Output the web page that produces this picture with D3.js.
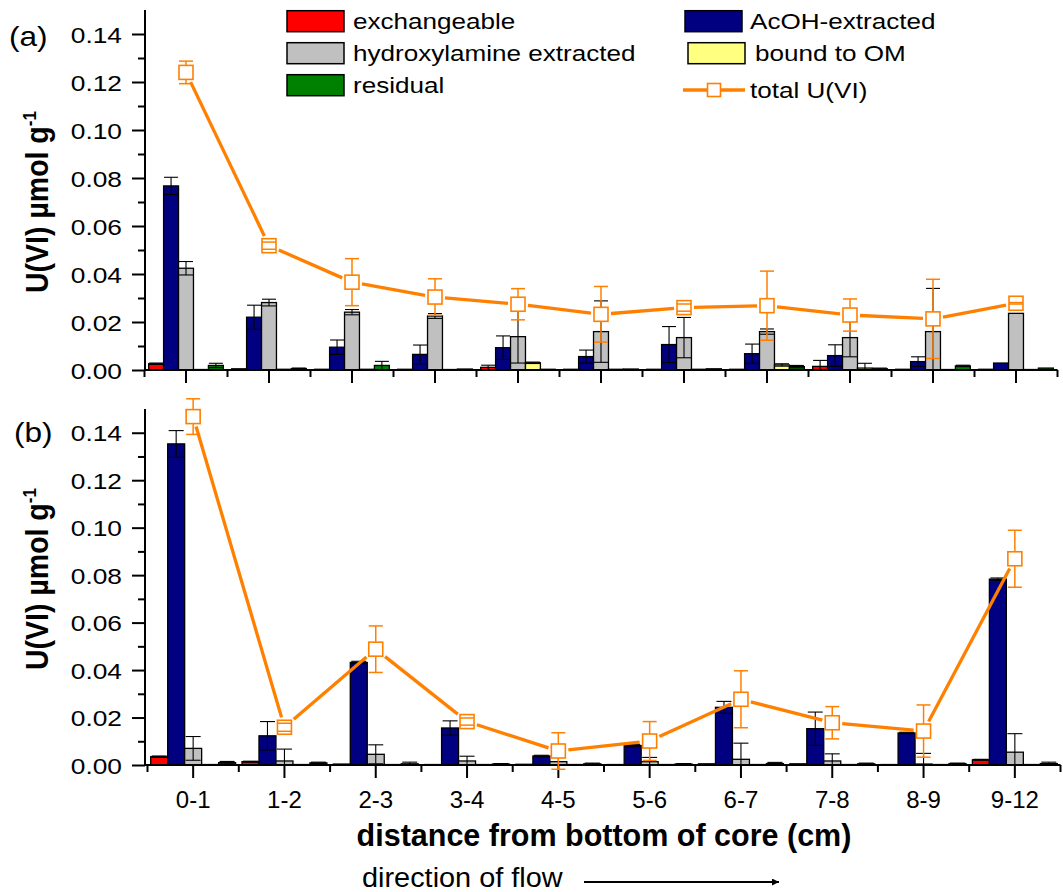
<!DOCTYPE html>
<html>
<head>
<meta charset="utf-8">
<script src="https://cdn.jsdelivr.net/npm/d3@7/dist/d3.min.js"></script>
<style>
  body { margin: 0; background: #fff; }
  svg { display: block; }
  text { font-family: "Liberation Sans", Arial, sans-serif; fill: #000; }
</style>
</head>
<body>
<svg id="chart" width="1063" height="892"></svg>
<script>
// ---- data ----
const seriesNames = ["exchangeable", "AcOH-extracted", "hydroxylamine extracted", "bound to OM", "residual"];

// panel (a): 11 slices, x labels not shown in the figure
const categoriesA = ["0-1", "1-2", "2-3", "3-4", "4-5", "5-6", "6-7", "7-8", "8-9", "9-10", "10-11"];
const exchA     = [0.0026, 0.0005, 0.0003, 0.0003, 0.0011, 0.0003, 0.0003, 0.0003, 0.0015, 0.0003, 0.0003];
const exchErrA  = [0.0003, 0, 0, 0, 0.0009, 0, 0, 0, 0.0025, 0, 0];
const acohA     = [0.0767, 0.0220, 0.0095, 0.0065, 0.0093, 0.0056, 0.0106, 0.0068, 0.0060, 0.0035, 0.0029];
const acohErrA  = [0.0036, 0.0050, 0.0030, 0.0039, 0.0049, 0.0027, 0.0075, 0.0040, 0.0045, 0.0020, 0];
const hydroxA   = [0.0424, 0.0281, 0.0241, 0.0225, 0.0139, 0.0160, 0.0135, 0.0160, 0.0135, 0.0160, 0.0236];
const hydroxErrA= [0.0028, 0.0014, 0.0011, 0.0010, 0.0110, 0.0128, 0.0084, 0.0011, 0.0080, 0.0180, 0];
const omA       = [0.0002, 0.0003, 0.0003, 0.0002, 0.0030, 0.0003, 0.0003, 0.0021, 0.0008, 0.0002, 0.0002];
const omErrA    = [0, 0, 0, 0, 0.0003, 0, 0, 0.0005, 0.0020, 0, 0];
const residA    = [0.0019, 0.0006, 0.0019, 0.0004, 0.0003, 0.0004, 0.0005, 0.0014, 0.0005, 0.0017, 0.0008];
const residErrA = [0.0009, 0.0002, 0.0017, 0, 0, 0, 0, 0.0005, 0.0003, 0.0003, 0];
const totalA    = [0.1240, 0.0518, 0.0366, 0.0304, 0.0274, 0.0232, 0.0260, 0.0268, 0.0229, 0.0213, 0.0278];
const totalErrA = [0.0047, 0.0015, 0.0098, 0.0076, 0.0065, 0.0116, 0.0015, 0.0144, 0.0067, 0.0165, 0.0003];

// panel (b)
const categoriesB = ["0-1", "1-2", "2-3", "3-4", "4-5", "5-6", "6-7", "7-8", "8-9", "9-12"];
const exchB     = [0.0035, 0.0014, 0.0004, 0.0002, 0.0003, 0.0002, 0.0005, 0.0005, 0.0002, 0.0022];
const exchErrB  = [0.0003, 0.0002, 0, 0, 0, 0, 0, 0, 0, 0.0002];
const acohB     = [0.1353, 0.0123, 0.0432, 0.0156, 0.0038, 0.0082, 0.0243, 0.0153, 0.0135, 0.0783];
const acohErrB  = [0.0056, 0.0060, 0.0005, 0.0030, 0.0003, 0.0005, 0.0025, 0.0070, 0.0003, 0.0005];
const hydroxB   = [0.0070, 0.0017, 0.0045, 0.0017, 0.0014, 0.0014, 0.0024, 0.0017, 0.0004, 0.0054];
const hydroxErrB= [0.0050, 0.0050, 0.0040, 0.0020, 0.0060, 0.0018, 0.0068, 0.0030, 0.0045, 0.0078];
const omB       = [0.0002, 0.0002, 0.0002, 0.0002, 0.0002, 0.0002, 0.0002, 0.0002, 0.0002, 0.0002];
const omErrB    = [0, 0, 0, 0, 0, 0, 0, 0, 0, 0];
const residB    = [0.0010, 0.0009, 0.0005, 0.0004, 0.0005, 0.0004, 0.0006, 0.0005, 0.0006, 0.0006];
const residErrB = [0.0005, 0.0003, 0.0007, 0.0002, 0.0003, 0.0002, 0.0005, 0.0003, 0.0002, 0.0006];
const totalB    = [0.1468, 0.0159, 0.0488, 0.0183, 0.0059, 0.0101, 0.0277, 0.0178, 0.0143, 0.0869];
const totalErrB = [0.0075, 0.0017, 0.0098, 0.0015, 0.0077, 0.0082, 0.0120, 0.0068, 0.0110, 0.0120];

const yTicks = [0, 0.02, 0.04, 0.06, 0.08, 0.10, 0.12, 0.14];
const yMinorTicks = [0.01, 0.03, 0.05, 0.07, 0.09, 0.11, 0.13];

// ---- styles ----
const barColors = ["#FF0000", "#000080", "#C0C0C0", "#FFFF80", "#008000"];
const ORANGE = "#FF8000";
const STRETCH = 1.17;   // the figure's text is a bit wide

const svg = d3.select("#chart");

function drawPanel(p) {
  const g = svg.append("g");
  const y = d3.scaleLinear().domain([0, 0.15]).range([p.bottom, p.top]);
  const x = d3.scaleBand().domain(p.cats).range([p.left, p.right]).padding(0);
  const bw = x.bandwidth();
  const inner = d3.scaleBand().domain(d3.range(seriesNames.length))
    .range([bw * (1 - p.frac) / 2, bw * (1 + p.frac) / 2]);

  // bars
  p.values.forEach((vals, s) => {
    g.append("g").selectAll("rect")
      .data(vals)
      .join("rect")
        .attr("x", (d, i) => x(p.cats[i]) + inner(s))
        .attr("y", d => y(d))
        .attr("width", inner.bandwidth())
        .attr("height", d => y(0) - y(d))
        .attr("fill", barColors[s])
        .attr("stroke", "#000")
        .attr("stroke-width", 1.3);
  });

  // bar error bars (lower end stops at the axis)
  p.values.forEach((vals, s) => {
    const errs = p.errs[s];
    const cap = p.cap / 2;
    vals.forEach((v, i) => {
      const e = errs[i];
      if (!e) return;
      const cx = x(p.cats[i]) + inner(s) + inner.bandwidth() / 2;
      const lo = Math.max(v - e, 0);
      const eg = g.append("g").attr("stroke", "#000").attr("stroke-width", 1.1);
      eg.append("line").attr("x1", cx).attr("x2", cx).attr("y1", y(v + e)).attr("y2", y(lo));
      eg.append("line").attr("x1", cx - cap).attr("x2", cx + cap).attr("y1", y(v + e)).attr("y2", y(v + e));
      if (v - e > 0) {
        eg.append("line").attr("x1", cx - cap).attr("x2", cx + cap).attr("y1", y(v - e)).attr("y2", y(v - e));
      }
    });
  });

  // axes
  const yAxis = g.append("g").attr("transform", `translate(${p.axisX},0)`)
    .call(d3.axisLeft(y).tickValues(yTicks).tickFormat(d3.format(".2f")).tickSize(13).tickPadding(10));
  yAxis.select(".domain").remove();
  yAxis.selectAll(".tick line").attr("stroke", "#000").attr("stroke-width", 2);
  yAxis.selectAll(".tick text")
    .attr("font-size", 22.5)
    .attr("x", -23 / STRETCH)
    .attr("dy", "0.36em")
    .attr("transform", `scale(${STRETCH},1)`);
  const yMinor = g.append("g").attr("transform", `translate(${p.axisX},0)`)
    .call(d3.axisLeft(y).tickValues(yMinorTicks).tickFormat("").tickSize(7));
  yMinor.select(".domain").remove();
  yMinor.selectAll(".tick line").attr("stroke", "#000").attr("stroke-width", 2);

  const xAxis = g.append("g").attr("transform", `translate(0,${p.bottom})`)
    .call(d3.axisBottom(x).tickSize(13).tickFormat(p.showLabels ? (d => d) : ""));
  xAxis.select(".domain").remove();
  xAxis.selectAll(".tick line").attr("stroke", "#000").attr("stroke-width", 2);
  xAxis.selectAll(".tick text").attr("font-size", 24).attr("dy", null).attr("y", 43);

  const bounds = p.cats.map(c => x(c)).concat([x.range()[1]]);
  g.append("g").selectAll("line")
    .data(bounds)
    .join("line")
      .attr("x1", d => d).attr("x2", d => d)
      .attr("y1", p.bottom).attr("y2", p.bottom + 7)
      .attr("stroke", "#000").attr("stroke-width", 2);

  g.append("line")
    .attr("x1", p.axisX).attr("x2", p.axisX)
    .attr("y1", y(0.15)).attr("y2", y(0) + 1)
    .attr("stroke", "#000").attr("stroke-width", 2);
  g.append("line")
    .attr("x1", p.axisX - 1).attr("x2", x.range()[1])
    .attr("y1", y(0)).attr("y2", y(0))
    .attr("stroke", "#000").attr("stroke-width", 2);

  // total U(VI) line, with a small gap around each marker
  const pts = p.total.map((v, i) => [x(p.cats[i]) + bw / 2, y(v)]);
  const half = p.marker / 2, gap = 3;
  for (let i = 0; i < pts.length - 1; i++) {
    const [x1, y1] = pts[i], [x2, y2] = pts[i + 1];
    const len = Math.hypot(x2 - x1, y2 - y1);
    const ux = (x2 - x1) / len, uy = (y2 - y1) / len;
    const t = half / Math.max(Math.abs(ux), Math.abs(uy)) + gap;
    if (len <= 2 * t) continue;
    g.append("line")
      .attr("x1", x1 + ux * t).attr("y1", y1 + uy * t)
      .attr("x2", x2 - ux * t).attr("y2", y2 - uy * t)
      .attr("stroke", ORANGE).attr("stroke-width", 3.3).attr("stroke-linecap", "butt");
  }

  const tg = g.append("g").attr("stroke", ORANGE).attr("stroke-width", 1.5);
  p.total.forEach((v, i) => {
    const e = p.totalErr[i];
    const cx = x(p.cats[i]) + bw / 2;
    tg.append("line").attr("x1", cx).attr("x2", cx).attr("y1", y(v + e)).attr("y2", y(v - e));
  });
  g.append("g").selectAll("rect")
    .data(p.total)
    .join("rect")
      .attr("x", (d, i) => x(p.cats[i]) + bw / 2 - half)
      .attr("y", d => y(d) - half)
      .attr("width", p.marker).attr("height", p.marker)
      .attr("fill", "#fff").attr("stroke", ORANGE).attr("stroke-width", 1.6);
  const cg = g.append("g").attr("stroke", ORANGE).attr("stroke-width", 1.5);
  p.total.forEach((v, i) => {
    const e = p.totalErr[i];
    const cx = x(p.cats[i]) + bw / 2;
    [v + e, v - e].forEach(yy => {
      cg.append("line").attr("x1", cx - half).attr("x2", cx + half).attr("y1", y(yy)).attr("y2", y(yy));
    });
  });

  // panel letter
  svg.append("text")
    .attr("transform", `translate(${p.letterX},${p.letterY}) scale(${STRETCH},1)`)
    .attr("font-size", 27)
    .text(p.letter);

  // y title
  const yt = svg.append("text")
    .attr("transform", `translate(48,${p.titleY}) rotate(-90) scale(1,1.12)`)
    .attr("font-size", 28.5)
    .attr("font-weight", "bold");
  yt.append("tspan").text("U(VI) \u00b5mol g");
  yt.append("tspan").attr("font-size", 17).attr("dy", -11).text("-1");
}

drawPanel({
  cats: categoriesA,
  values: [exchA, acohA, hydroxA, omA, residA],
  errs: [exchErrA, acohErrA, hydroxErrA, omErrA, residErrA],
  total: totalA, totalErr: totalErrA,
  top: 10, bottom: 370, left: 144.5, right: 1057.5, axisX: 145,
  frac: 0.9, cap: 14, marker: 14, showLabels: false,
  letter: "(a)", letterX: 9, letterY: 46, titleY: 293
});

drawPanel({
  cats: categoriesB,
  values: [exchB, acohB, hydroxB, omB, residB],
  errs: [exchErrB, acohErrB, hydroxErrB, omErrB, residErrB],
  total: totalB, totalErr: totalErrB,
  top: 409, bottom: 765, left: 147.5, right: 1060.5, axisX: 145,
  frac: 0.93, cap: 15, marker: 14, showLabels: true,
  letter: "(b)", letterX: 14, letterY: 442, titleY: 670
});

// legend
const legendItems = [
  { s: 0, x: 287, y: 10.7, tx: 353 },
  { s: 2, x: 287, y: 42.7, tx: 353 },
  { s: 4, x: 287, y: 74.7, tx: 353 },
  { s: 1, x: 685, y: 10.7, tx: 750 },
  { s: 3, x: 688, y: 42.7, tx: 755 }
];
const leg = svg.append("g");
legendItems.forEach(it => {
  leg.append("rect")
    .attr("x", it.x).attr("y", it.y).attr("width", 57).attr("height", 21)
    .attr("fill", barColors[it.s]).attr("stroke", "#000").attr("stroke-width", 1.5);
  leg.append("text")
    .attr("transform", `translate(${it.tx},${it.y + 18.6}) scale(${STRETCH},1)`)
    .attr("font-size", 22.3)
    .text(seriesNames[it.s]);
});
leg.append("line").attr("x1", 683).attr("x2", 745).attr("y1", 90).attr("y2", 90)
  .attr("stroke", ORANGE).attr("stroke-width", 3.3);
leg.append("rect").attr("x", 707.5).attr("y", 83.5).attr("width", 13).attr("height", 13)
  .attr("fill", "#fff").attr("stroke", ORANGE).attr("stroke-width", 1.6);
leg.append("text")
  .attr("transform", `translate(750,97.6) scale(${STRETCH},1)`)
  .attr("font-size", 22.3)
  .text("total U(VI)");

// x title and flow note
svg.append("text")
  .attr("x", 604).attr("y", 846)
  .attr("text-anchor", "middle")
  .attr("font-size", 30.5).attr("font-weight", "bold")
  .text("distance from bottom of core (cm)");

svg.append("text")
  .attr("transform", "translate(362,887) scale(1.07,1)")
  .attr("font-size", 27)
  .text("direction of flow");

svg.append("defs").append("marker")
  .attr("id", "arrow").attr("viewBox", "0 0 10 10")
  .attr("refX", 10).attr("refY", 5)
  .attr("markerWidth", 10).attr("markerHeight", 7)
  .attr("markerUnits", "userSpaceOnUse")
  .attr("orient", "auto")
  .append("path").attr("d", "M0,0 L10,5 L0,10 z").attr("fill", "#000");
svg.append("line")
  .attr("x1", 584).attr("x2", 779).attr("y1", 882).attr("y2", 882)
  .attr("stroke", "#000").attr("stroke-width", 2)
  .attr("marker-end", "url(#arrow)");
</script>
</body>
</html>
